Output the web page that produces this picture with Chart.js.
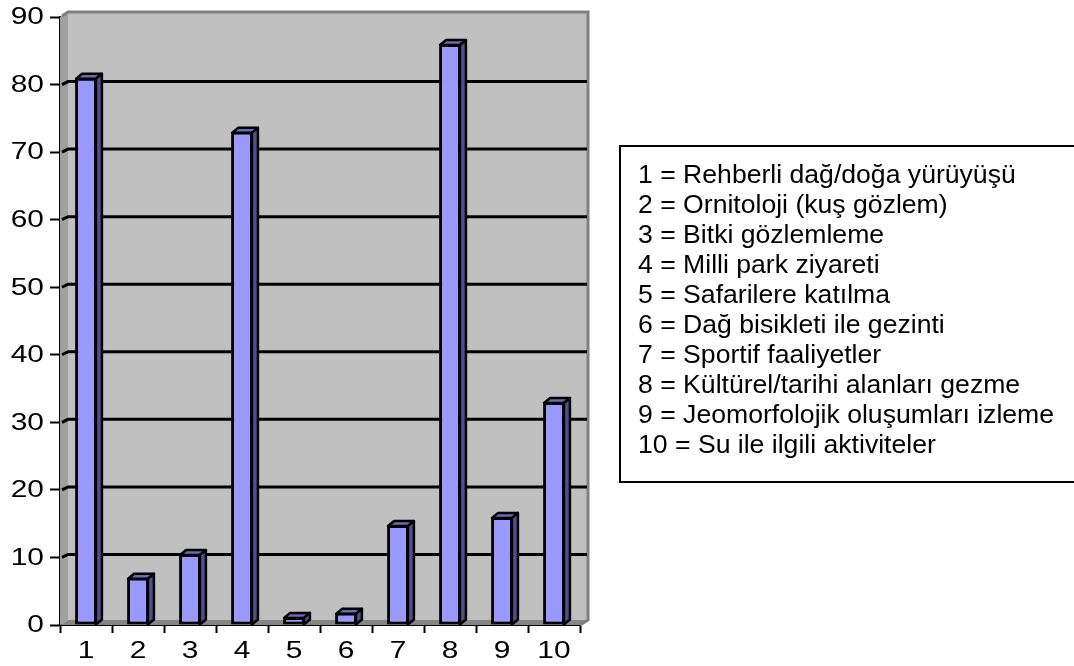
<!DOCTYPE html>
<html>
<head>
<meta charset="utf-8">
<script src="https://cdn.jsdelivr.net/npm/chart.js@4"></script>
<style>
  body { margin: 0; background: #fff; }
  #wrap { position: relative; width: 1074px; height: 666px; overflow: hidden; }
  #legendBox {
    position: absolute; left: 619px; top: 145px; width: 480px; height: 338px;
    border: 2px solid #000; box-sizing: border-box;
    padding: 12px 0 0 17px;
    font-family: "Liberation Sans", Arial, sans-serif; font-size: 26.6px; line-height: 30px; color: #000;
  }
</style>
</head>
<body>
<div id="wrap">
  <canvas id="myChart" width="1074" height="666"></canvas>
  <div id="legendBox"></div>
</div>
<script>
document.addEventListener("DOMContentLoaded", function () {
    // categories / values
    const categories = ["1", "2", "3", "4", "5", "6", "7", "8", "9", "10"];
    const values = [81, 7, 10.5, 73, 1.2, 1.8, 14.8, 86, 16, 33];
    const yTicks = [0, 10, 20, 30, 40, 50, 60, 70, 80, 90];
    const legendLines = [
        "1 = Rehberli dağ/doğa yürüyüşü",
        "2 = Ornitoloji (kuş gözlem)",
        "3 = Bitki gözlemleme",
        "4 = Milli park ziyareti",
        "5 = Safarilere katılma",
        "6 = Dağ bisikleti ile gezinti",
        "7 = Sportif faaliyetler",
        "8 = Kültürel/tarihi alanları gezme",
        "9 = Jeomorfolojik oluşumları izleme",
        "10 = Su ile ilgili aktiviteler"
    ];

    document.getElementById("legendBox").innerHTML =
        legendLines.map(function (t) { return "<div>" + t + "</div>"; }).join("");

    const wallDx = 8, wallDy = 5;   // depth of the walls
    const barDx = 6, barDy = 5;     // depth of the bars
    const stretch = 1.3;            // axis text is wide in the original

    // walls, floor and gridlines behind the bars
    const wallsPlugin = {
        id: "walls",
        beforeDatasetsDraw(chart) {
            const ctx = chart.ctx;
            const a = chart.chartArea;
            const y = chart.scales.y;
            ctx.save();
            // back wall
            ctx.fillStyle = "#C0C0C0";
            ctx.fillRect(a.left + wallDx, a.top - wallDy, a.right - a.left, a.bottom - a.top);
            // left wall
            ctx.fillStyle = "#A0A0A0";
            ctx.beginPath();
            ctx.moveTo(a.left, a.bottom);
            ctx.lineTo(a.left, a.top);
            ctx.lineTo(a.left + wallDx, a.top - wallDy);
            ctx.lineTo(a.left + wallDx, a.bottom - wallDy);
            ctx.closePath();
            ctx.fill();
            // floor
            ctx.fillStyle = "#858585";
            ctx.beginPath();
            ctx.moveTo(a.left, a.bottom);
            ctx.lineTo(a.left + wallDx, a.bottom - wallDy);
            ctx.lineTo(a.right + wallDx, a.bottom - wallDy);
            ctx.lineTo(a.right, a.bottom);
            ctx.closePath();
            ctx.fill();
            // wall border
            ctx.strokeStyle = "#808080";
            ctx.lineWidth = 3;
            ctx.beginPath();
            ctx.moveTo(a.left + 2, a.top - 1);
            ctx.lineTo(a.left + wallDx, a.top - wallDy);
            ctx.lineTo(a.right + wallDx, a.top - wallDy);
            ctx.lineTo(a.right + wallDx, a.bottom - wallDy);
            ctx.lineTo(a.right, a.bottom);
            ctx.stroke();
            // gridlines on the back wall
            ctx.strokeStyle = "#000";
            ctx.lineWidth = 3;
            yTicks.forEach(function (v) {
                if (v === 0 || v === 90) return;
                const py = y.getPixelForValue(v);
                ctx.beginPath();
                ctx.moveTo(a.left + 2, py);
                ctx.lineTo(a.left + wallDx, py - wallDy + 2);
                ctx.lineTo(a.right + wallDx - 1, py - wallDy + 2);
                ctx.stroke();
            });
            ctx.restore();
        },
        afterDatasetsDraw(chart) {
            const ctx = chart.ctx;
            const meta = chart.getDatasetMeta(0);
            ctx.save();
            ctx.strokeStyle = "#000";
            ctx.lineWidth = 2.5;
            ctx.lineJoin = "round";
            meta.data.forEach(function (bar) {
                const p = bar.getProps(["x", "y", "base", "width"], true);
                const l = p.x - p.width / 2 + 1, r = p.x + p.width / 2 - 1;
                const t = p.y + 1, b = p.base;
                // top face
                ctx.fillStyle = "#6A6AB8";
                ctx.beginPath();
                ctx.moveTo(l, t);
                ctx.lineTo(l + barDx, t - barDy);
                ctx.lineTo(r + barDx, t - barDy);
                ctx.lineTo(r, t);
                ctx.closePath();
                ctx.fill();
                ctx.stroke();
                // side face
                ctx.fillStyle = "#50508C";
                ctx.beginPath();
                ctx.moveTo(r, t);
                ctx.lineTo(r + barDx, t - barDy);
                ctx.lineTo(r + barDx, b - barDy);
                ctx.lineTo(r, b);
                ctx.closePath();
                ctx.fill();
                ctx.stroke();
            });
            ctx.restore();
        },
        afterDraw(chart) {
            // axis labels, placed by the scales, drawn a bit wider
            const ctx = chart.ctx;
            const xs = chart.scales.x, ys = chart.scales.y;
            ctx.save();
            ctx.fillStyle = "#000";
            ctx.font = '23px "Liberation Sans", Arial, sans-serif';
            ctx.textBaseline = "middle";
            ctx.textAlign = "right";
            ys.ticks.forEach(function (tk) {
                ctx.save();
                ctx.translate(44, ys.getPixelForValue(tk.value));
                ctx.scale(stretch, 1);
                ctx.fillText(String(tk.value), 0, 1);
                ctx.restore();
            });
            ctx.textAlign = "center";
            categories.forEach(function (c, i) {
                ctx.save();
                ctx.translate(xs.getPixelForValue(i), 652);
                ctx.scale(stretch, 1);
                ctx.fillText(c, 0, 0);
                ctx.restore();
            });
            ctx.restore();
        }
    };

    new Chart(document.getElementById("myChart"), {
        type: "bar",
        data: {
            labels: categories,
            datasets: [{
                data: values,
                backgroundColor: "#9999FF",
                borderColor: "#000",
                borderWidth: 3,
                borderSkipped: false,
                barPercentage: 0.42,
                categoryPercentage: 1
            }]
        },
        options: {
            responsive: false,
            animation: false,
            layout: { padding: { top: 17, right: 494, left: 0, bottom: 0 } },
            plugins: { legend: { display: false }, tooltip: { enabled: false } },
            scales: {
                x: {
                    grid: { offset: true, drawOnChartArea: false, drawTicks: true, tickLength: 8, tickColor: "#000", tickWidth: 2, color: "#000" },
                    border: { display: true, color: "#000", width: 2 },
                    ticks: { display: false },
                    afterFit: function (s) { s.height = 41; }
                },
                y: {
                    min: 0, max: 90,
                    grid: { drawOnChartArea: false, drawTicks: true, tickLength: 10, tickColor: "#000", tickWidth: 2, color: "#000" },
                    border: { display: true, color: "#000", width: 2 },
                    ticks: { display: false, stepSize: 10 },
                    afterFit: function (s) { s.width = 60; }
                }
            }
        },
        plugins: [wallsPlugin]
    });
});
</script>
</body>
</html>
